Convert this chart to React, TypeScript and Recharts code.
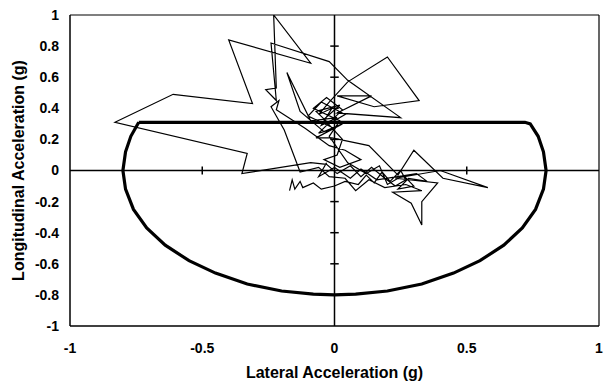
import React from "react";
import {
  ScatterChart,
  Scatter,
  XAxis,
  YAxis,
  ReferenceLine,
} from "recharts";

// lateral (x) / longitudinal (y) acceleration in g
const frictionLimit: [number, number][] = [
  [-0.74, 0.31], [0.72, 0.31], [0.74, 0.3], [0.77, 0.22], [0.79, 0.12],
  [0.8, 0], [0.79, -0.12], [0.76, -0.25], [0.71, -0.37], [0.64, -0.48],
  [0.55, -0.58], [0.45, -0.66], [0.33, -0.73], [0.2, -0.775], [0.08, -0.795],
  [0, -0.8], [-0.08, -0.795], [-0.2, -0.775], [-0.33, -0.73], [-0.45, -0.66],
  [-0.55, -0.58], [-0.64, -0.48], [-0.71, -0.37], [-0.76, -0.25], [-0.79, -0.12],
  [-0.8, 0], [-0.79, 0.12], [-0.77, 0.22], [-0.74, 0.31],
];

const driverTrace: [number, number][] = [
  [-0.17, -0.13], [-0.16, -0.06], [-0.15, -0.12], [-0.13, -0.07], [-0.12, -0.11],
  [-0.08, -0.08], [-0.05, -0.12], [0.0, -0.1], [0.04, -0.07], [0.09, -0.09],
  [0.12, -0.03], [0.15, -0.08], [0.18, -0.01], [0.21, -0.07], [0.25, 0.0],
  [0.27, -0.06], [0.23, -0.1], [0.19, -0.05], [0.14, 0.02], [0.1, -0.04],
  [0.06, 0.03], [0.01, -0.02], [-0.03, 0.04], [-0.09, 0.05], [-0.35, -0.02],
  [-0.33, 0.11], [-0.83, 0.31], [-0.61, 0.49], [-0.31, 0.43], [-0.4, 0.84],
  [-0.09, 0.69], [-0.23, 1.0], [-0.22, 0.53], [-0.26, 0.52], [-0.22, 0.45],
  [-0.24, 0.82], [-0.02, 0.7], [0.05, 0.58], [0.25, 0.34], [0.01, 0.37],
  [0.14, 0.48], [0.01, 0.48], [0.15, 0.41], [0.32, 0.45], [0.2, 0.73],
  [0.05, 0.57], [-0.02, 0.44], [-0.06, 0.36], [-0.01, 0.4], [-0.05, 0.29],
  [0.01, 0.34], [-0.09, 0.32], [-0.18, 0.63], [-0.13, 0.38], [-0.04, 0.25],
  [0.03, 0.3], [-0.07, 0.21], [-0.01, 0.21], [0.13, 0.16], [0.24, -0.03],
  [0.3, 0.13], [0.41, -0.05], [0.58, -0.11], [0.4, 0.0], [0.23, -0.05],
  [0.39, -0.08], [0.33, -0.2], [0.33, -0.35], [0.29, -0.21], [0.22, -0.14],
  [0.33, -0.13], [0.27, -0.09], [0.19, -0.11], [0.13, -0.06], [0.08, -0.13],
  [0.04, -0.05], [-0.02, -0.04], [-0.06, 0.02], [-0.13, -0.01], [-0.19, 0.26],
  [-0.24, 0.41], [-0.21, 0.45], [-0.22, 0.39], [-0.11, 0.27], [-0.02, 0.16],
  [0.04, 0.13], [0.1, 0.07], [0.02, 0.02], [-0.04, 0.07], [0.01, 0.1],
  [0.03, 0.2], [-0.04, 0.33], [0.02, 0.42], [-0.07, 0.38], [-0.02, 0.3],
  [0.04, 0.36], [-0.05, 0.44], [-0.1, 0.35], [0.0, 0.27], [-0.06, 0.24],
  [0.03, 0.39], [-0.03, 0.47], [-0.08, 0.4], [0.02, 0.32], [-0.02, 0.22],
  [0.05, 0.05], [0.12, -0.02], [0.17, 0.03], [0.2, -0.09], [0.26, -0.03],
  [0.3, -0.1], [0.24, -0.12], [0.28, -0.05], [0.35, -0.07], [0.31, -0.02],
  [0.16, -0.06], [0.1, 0.01], [0.06, -0.05], [0.0, 0.02], [-0.06, -0.04],
  [-0.03, 0.05],
];

const xTicks = [-1, -0.5, 0, 0.5, 1];
const yTicks = [-1, -0.8, -0.6, -0.4, -0.2, 0, 0.2, 0.4, 0.6, 0.8, 1];

const toPoints = (pairs: [number, number][]) => pairs.map(([x, y]) => ({ x, y }));

const FONT = "Arial, 'Liberation Sans', sans-serif";
const tickStyle = { fill: "#000", fontSize: 14, fontWeight: "bold", fontFamily: FONT };
const labelStyle = { fill: "#000", fontSize: 16, fontWeight: "bold", fontFamily: FONT };
const TICK_DX = 0.016;
const TICK_DY = 0.026;

const App = () => {
  return (
    <div style={{ position: "absolute", left: 0, top: 0 }}>
      <ScatterChart
        width={605}
        height={381}
        margin={{ top: 15, right: 6, bottom: 0, left: 20 }}
      >
        <XAxis
          type="number"
          dataKey="x"
          domain={[-1, 1]}
          ticks={xTicks}
          allowDataOverflow
          tickLine={false}
          axisLine={{ stroke: "#000", strokeWidth: 1.5 }}
          tick={tickStyle}
          tickMargin={11}
          height={55}
          label={{
            value: "Lateral Acceleration (g)",
            position: "insideBottom",
            offset: 3,
            style: labelStyle,
          }}
        />
        <YAxis
          type="number"
          dataKey="y"
          domain={[-1, 1]}
          ticks={yTicks}
          allowDataOverflow
          tickLine={false}
          axisLine={{ stroke: "#000", strokeWidth: 1.5 }}
          tick={tickStyle}
          tickMargin={5}
          width={50}
          label={{
            value: "Longitudinal Acceleration (g)",
            angle: -90,
            position: "insideLeft",
            offset: -2,
            style: { ...labelStyle, textAnchor: "middle" },
          }}
        />
        <ReferenceLine y={1} stroke="#000" strokeWidth={1.2} />
        <ReferenceLine x={1} stroke="#000" strokeWidth={1.2} />
        <ReferenceLine y={0} stroke="#000" strokeWidth={1.5} />
        <ReferenceLine x={0} stroke="#000" strokeWidth={1.5} />
        {yTicks
          .filter((t) => Math.abs(t) > 0 && Math.abs(t) < 1)
          .map((t) => (
            <ReferenceLine
              key={"yt" + t}
              segment={[
                { x: -TICK_DX, y: t },
                { x: TICK_DX, y: t },
              ]}
              stroke="#000"
              strokeWidth={1.5}
            />
          ))}
        {xTicks
          .filter((t) => Math.abs(t) > 0 && Math.abs(t) < 1)
          .map((t) => (
            <ReferenceLine
              key={"xt" + t}
              segment={[
                { x: t, y: -TICK_DY },
                { x: t, y: TICK_DY },
              ]}
              stroke="#000"
              strokeWidth={1.5}
            />
          ))}
        <Scatter
          data={toPoints(driverTrace)}
          fill="#000"
          line={{ stroke: "#000", strokeWidth: 1.2 }}
          shape={() => <g />}
          isAnimationActive={false}
        />
        <Scatter
          data={toPoints(frictionLimit)}
          fill="#000"
          line={{ stroke: "#000", strokeWidth: 3.2 }}
          shape={() => <g />}
          isAnimationActive={false}
        />
      </ScatterChart>
    </div>
  );
};

export default App;
